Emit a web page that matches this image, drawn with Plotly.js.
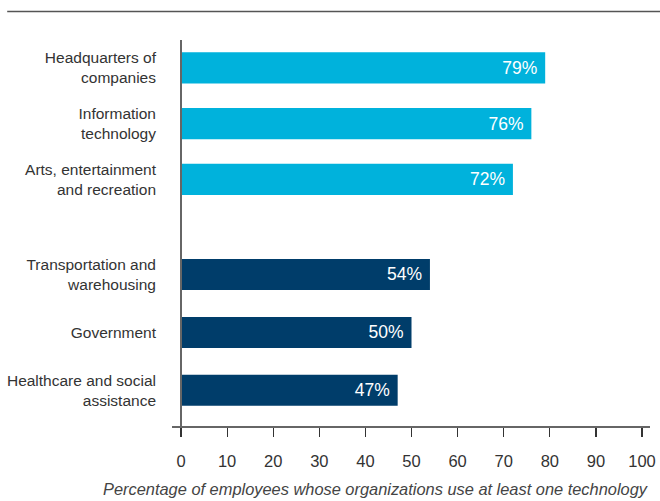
<!DOCTYPE html>
<html>
<head>
<meta charset="utf-8">
<script src="https://cdn.plot.ly/plotly-3.0.1.min.js"></script>
<style>html,body{margin:0;padding:0;background:#fff;}#chart{width:660px;height:501px;}</style>
</head>
<body>
<div id="chart"></div>
<script>
var topCategories = ["Headquarters of<br>companies", "Information<br>technology", "Arts, entertainment<br>and recreation"];
var topValues = [79, 76, 72];
var bottomCategories = ["Transportation and<br>warehousing", "Government", "Healthcare and social<br>assistance"];
var bottomValues = [54, 50, 47];
var xTicks = [0, 10, 20, 30, 40, 50, 60, 70, 80, 90, 100];
var xTitle = "Percentage of employees whose organizations use at least one technology";

var FONT = "Liberation Sans, Arial, sans-serif";
var LIGHT = "#00B2DC";
var DARK = "#003D6A";

function label(v) { return v + "%\u00a0"; }

var traces = [
  {
    type: "bar", orientation: "h",
    y: topCategories, x: topValues,
    xaxis: "x", yaxis: "y",
    marker: {color: LIGHT},
    width: 0.56,
    text: topValues.map(label),
    textposition: "inside", insidetextanchor: "end",
    textfont: {family: FONT, size: 17.5, color: "#ffffff"},
    hoverinfo: "none", cliponaxis: false
  },
  {
    type: "bar", orientation: "h",
    y: bottomCategories, x: bottomValues,
    xaxis: "x", yaxis: "y2",
    marker: {color: DARK},
    width: 0.535,
    text: bottomValues.map(label),
    textposition: "inside", insidetextanchor: "end",
    textfont: {family: FONT, size: 17.5, color: "#ffffff"},
    hoverinfo: "none", cliponaxis: false
  }
];

var layout = {
  width: 660, height: 501,
  margin: {l: 181, r: 18, t: 40, b: 74},
  paper_bgcolor: "#ffffff", plot_bgcolor: "#ffffff",
  showlegend: false,
  font: {family: FONT, color: "#333333"},
  xaxis: {
    range: [0, 100], anchor: "free", position: 0,
    tickmode: "array", tickvals: xTicks, ticktext: xTicks.map(String),
    ticks: "outside", ticklen: 9, tickwidth: 1.2, tickcolor: "#333333",
    showgrid: false, zeroline: false, showline: false,
    tickfont: {family: FONT, size: 16.5, color: "#333333"},
    ticklabelstandoff: 10,
    fixedrange: true
  },
  yaxis: {
    domain: [0.5677, 1], type: "category", autorange: "reversed",
    showgrid: false, zeroline: false, showline: false, ticks: "",
    tickfont: {family: FONT, size: 15.5, color: "#333333"},
    ticklabelstandoff: 24,
    fixedrange: true
  },
  yaxis2: {
    domain: [0.0199, 0.469], type: "category", autorange: "reversed",
    anchor: "x",
    showgrid: false, zeroline: false, showline: false, ticks: "",
    tickfont: {family: FONT, size: 15.5, color: "#333333"},
    ticklabelstandoff: 24,
    fixedrange: true
  },
  shapes: [
    {type: "line", xref: "paper", yref: "paper", x0: -0.0195, x1: 1.0174, y0: 0, y1: 0,
     line: {color: "#333333", width: 1.5}},
    {type: "line", xref: "paper", yref: "paper", x0: 0, x1: 0, y0: 0, y1: 1,
     line: {color: "#666666", width: 2}},
    {type: "line", xref: "paper", yref: "paper", x0: -0.377, x1: 1.04, y0: 1.0736, y1: 1.0736,
     line: {color: "#555555", width: 1.5}}
  ],
  annotations: [
    {text: xTitle, xref: "paper", yref: "paper", x: 0.422, y: -0.161,
     xanchor: "center", yanchor: "middle", showarrow: false,
     font: {family: FONT, size: 16.4, color: "#444444", style: "italic"}}
  ]
};

Plotly.newPlot("chart", traces, layout, {displayModeBar: false, staticPlot: true});
</script>
</body>
</html>
